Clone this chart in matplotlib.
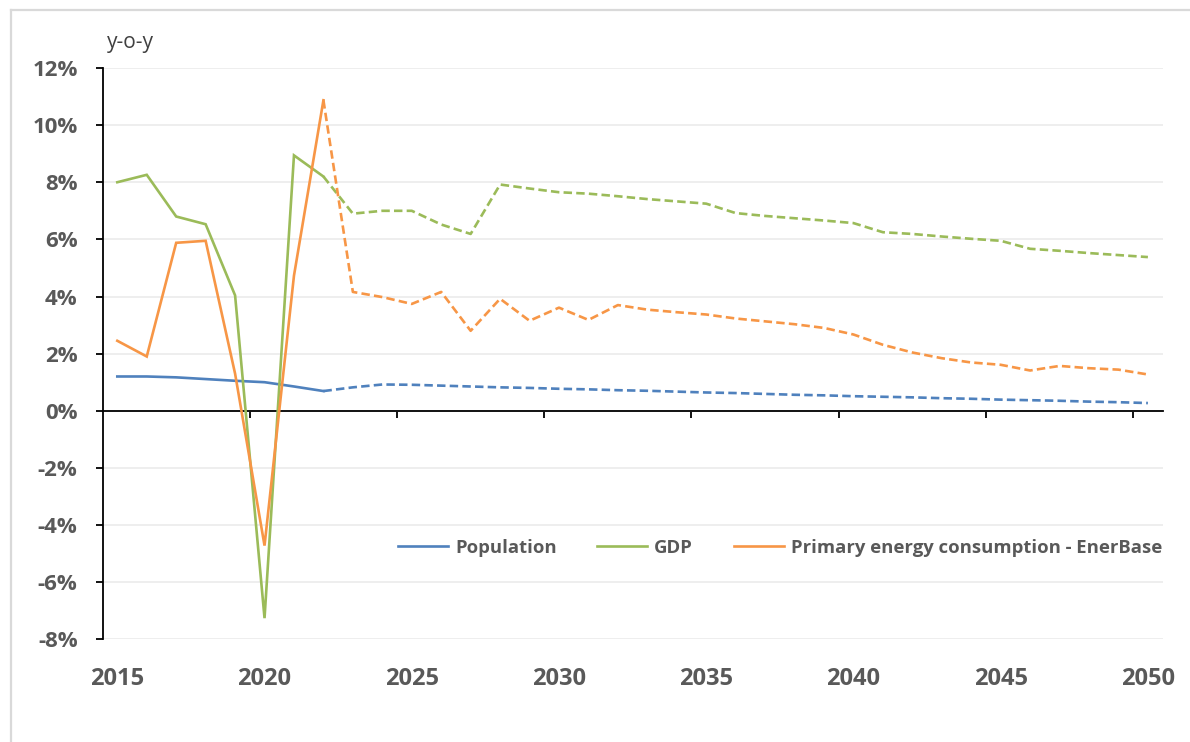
import numpy as np
import matplotlib.pyplot as plt
from matplotlib.lines import Line2D
from matplotlib.transforms import blended_transform_factory

plt.rcParams['font.family'] = ['Open Sans', 'DejaVu Sans']

# year-on-year growth rates, %
years = list(range(2015, 2051))
population = [1.20, 1.20, 1.17, 1.11, 1.05, 1.00, 0.85, 0.69, 0.82, 0.92,
              0.91, 0.88, 0.85, 0.82, 0.80, 0.77, 0.75, 0.72, 0.70, 0.67,
              0.64, 0.62, 0.59, 0.56, 0.54, 0.51, 0.49, 0.47, 0.44, 0.42,
              0.39, 0.37, 0.35, 0.32, 0.30, 0.27]
gdp = [8.00, 8.26, 6.80, 6.53, 4.04, -7.26, 8.94, 8.20, 6.90, 7.00,
       7.00, 6.52, 6.19, 7.92, 7.78, 7.65, 7.60, 7.51, 7.41, 7.33,
       7.25, 6.92, 6.82, 6.74, 6.66, 6.57, 6.25, 6.19, 6.10, 6.02,
       5.95, 5.67, 5.60, 5.52, 5.45, 5.38]
energy = [2.45, 1.90, 5.88, 5.95, 1.30, -4.72, 4.73, 10.87, 4.16, 3.98,
          3.74, 4.16, 2.80, 3.92, 3.15, 3.61, 3.18, 3.70, 3.54, 3.45,
          3.37, 3.23, 3.13, 3.03, 2.90, 2.67, 2.31, 2.04, 1.84, 1.69,
          1.61, 1.41, 1.57, 1.49, 1.44, 1.27]
last_actual = 2022

series = [('Population', population, '#4F81BD'),
          ('GDP', gdp, '#9BBB59'),
          ('Primary energy consumption - EnerBase', energy, '#F79646')]

fig = plt.figure(figsize=(11.9, 7.42), dpi=100)
ax = fig.add_axes([0.0862, 0.1384, 0.8908, 0.77])

# thin chart-area frame (top and left edges)
fig.add_artist(Line2D([11 / 1190, 1], [1 - 10 / 742] * 2, color='#D9D9D9', lw=1.6))
fig.add_artist(Line2D([11 / 1190] * 2, [0, 1 - 10 / 742], color='#D9D9D9', lw=1.6))

yrs = np.array(years)
k = years.index(last_actual)
handles = []
for name, vals, col in series:
    vals = np.array(vals)
    h, = ax.plot(yrs[:k + 1], vals[:k + 1], color=col, lw=1.9, solid_joinstyle='miter')
    ax.plot(yrs[k:], vals[k:], color=col, lw=1.9, ls=(0, (3.2, 1.6)))
    handles.append(h)

ax.set_xlim(2014.5, 2050.5)
ax.set_ylim(-8, 12)

yt = np.arange(-8, 13, 2)
ax.set_yticks(yt)
ax.set_yticklabels([f'{v:.0f}%' for v in yt])
ax.yaxis.grid(True, color='#EDEDED', lw=1.3)
ax.set_axisbelow(True)

# category ticks sit between years, labels sit under the years
ax.set_xticks(np.arange(2019.5, 2050, 5))
ax.set_xticklabels([])
trans = blended_transform_factory(ax.transData, ax.transAxes)
for y in range(2015, 2051, 5):
    ax.text(y, -0.07, str(y), transform=trans, ha='center', va='center',
            fontsize=17, fontweight='bold', color='#595959')

for s in ['top', 'right']:
    ax.spines[s].set_visible(False)
ax.spines['bottom'].set_position(('data', 0))
ax.spines['bottom'].set_zorder(1)
for s in ['left', 'bottom']:
    ax.spines[s].set_color('black')
    ax.spines[s].set_linewidth(1.3)
ax.tick_params(axis='y', length=5, width=1.3, pad=13, labelsize=16,
               labelcolor='#595959', color='black')
ax.tick_params(axis='x', length=5, width=1.3, color='black')
for lab in ax.get_yticklabels():
    lab.set_fontweight('bold')

ax.text(0.004, 1.045, 'y-o-y', transform=ax.transAxes, ha='left', va='center',
        fontsize=15, color='#404040')

leg = ax.legend(handles, [s[0] for s in series], loc='center right',
                bbox_to_anchor=(1.015, 0.16), ncol=3, frameon=False,
                handlelength=2.7, handletextpad=0.38, columnspacing=2.2,
                prop={'size': 13.3, 'weight': 'bold'})
for t in leg.get_texts():
    t.set_color('#595959')

fig.savefig('out.png', dpi=100)
